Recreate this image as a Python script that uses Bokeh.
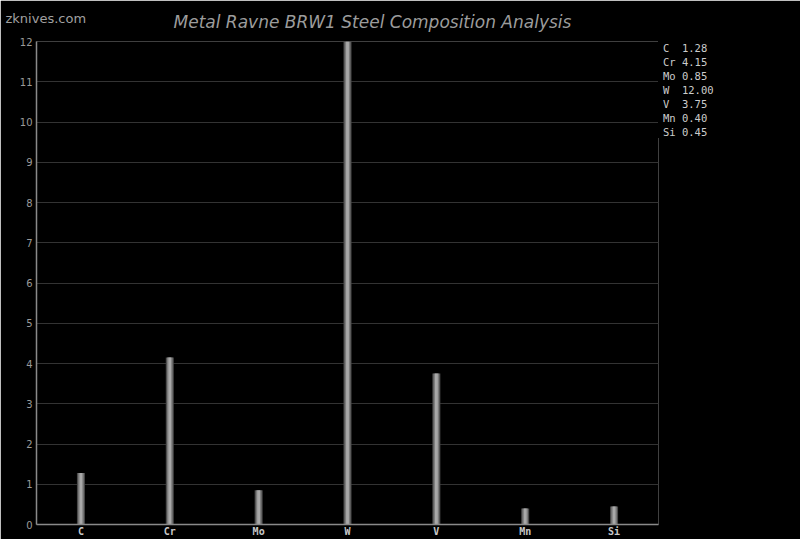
from bokeh.plotting import figure
from bokeh.models import Range1d, FactorRange, Label, ColumnDataSource, FixedTicker, Legend, LegendItem
from bokeh.embed import file_html
from bokeh.resources import INLINE

elements = ["C", "Cr", "Mo", "W", "V", "Mn", "Si"]
values = [1.28, 4.15, 0.85, 12.00, 3.75, 0.40, 0.45]
y_ticks = list(range(0, 13))
title_text = "Metal Ravne BRW1 Steel Composition Analysis"
watermark = "zknives.com"

W, H = 784, 539
LEFT, RIGHT, TOP, BOTTOM = 36, 126, 41, 15
frame_w = W - LEFT - RIGHT
frame_h = H - TOP - BOTTOM
px_x = frame_w / len(elements)      # pixels per category
px_y = frame_h / 12.0               # pixels per y unit


def sx(px):   # canvas x (px) -> synthetic categorical coordinate
    return (px - LEFT) / px_x


def sy(py):   # canvas y (px from top) -> data y
    return 12 + (TOP - py) / px_y


src = ColumnDataSource(dict(x=elements, top=values))

p = figure(frame_width=frame_w, frame_height=frame_h,
           x_range=FactorRange(factors=elements, range_padding=0),
           y_range=Range1d(0, 12), output_backend="svg", toolbar_location=None,
           min_border_left=LEFT, min_border_right=RIGHT, min_border_top=TOP,
           min_border_bottom=BOTTOM)
p.background_fill_color = "black"
p.border_fill_color = "black"
p.outline_line_color = None

# bars with a simple shaded look
for w, c in [(0.090, "#4a4a4a"), (0.064, "#7c7c7c"), (0.032, "#a8a8a8")]:
    p.vbar(x="x", top="top", width=w, bottom=0, source=src, fill_color=c, line_color=None)

p.xgrid.grid_line_color = None
p.ygrid.grid_line_color = "#333333"
p.ygrid.ticker = FixedTicker(ticks=y_ticks)

p.yaxis.ticker = FixedTicker(ticks=y_ticks)
for ax in (p.xaxis[0], p.yaxis[0]):
    ax.axis_line_color = "#8a8a8a"
    ax.axis_line_width = 1.5
    ax.major_tick_line_color = None
    ax.minor_tick_line_color = None
    ax.major_tick_out = 0
    ax.major_tick_in = 0
p.yaxis.major_label_text_font = "DejaVu Sans"
p.yaxis.major_label_text_font_size = "10px"
p.yaxis.major_label_text_color = "#9a9a9a"
p.yaxis.major_label_standoff = 4
p.xaxis.major_label_text_font = "DejaVu Sans Mono"
p.xaxis.major_label_text_font_style = "bold"
p.xaxis.major_label_text_font_size = "10px"
p.xaxis.major_label_text_color = "#c8c8c8"
p.xaxis.major_label_standoff = 1

# title and watermark (in the top panel so they are not clipped by the frame)
p.add_layout(Label(x=sx(173), y=sy(21.4), text=title_text, text_font="DejaVu Sans",
                   text_font_style="italic", text_font_size="17px", text_color="#9c9c9c",
                   text_baseline="alphabetic", text_align="left"), "above")
p.add_layout(Label(x=sx(5), y=sy(17.5), text=watermark, text_font="DejaVu Sans",
                   text_font_size="13px", text_color="#a0a0a0",
                   text_baseline="alphabetic", text_align="left"), "above")

# composition list on the right
dummy = p.scatter(x=[elements[0]], y=[0], size=1, fill_alpha=0, line_alpha=0)
items = [LegendItem(label=f"{el:<2} {v:.2f}", renderers=[dummy]) for el, v in zip(elements, values)]
legend = Legend(items=items, location="top_left", margin=0, padding=0, spacing=1,
                glyph_width=1, glyph_height=13, label_height=13, label_standoff=4,
                label_text_font="DejaVu Sans Mono", label_text_font_size="10.5px",
                label_text_color="#cccccc", background_fill_color="black",
                background_fill_alpha=1, border_line_color=None)
p.add_layout(legend, "right")

open("out.html", "w").write(file_html(p, INLINE))
